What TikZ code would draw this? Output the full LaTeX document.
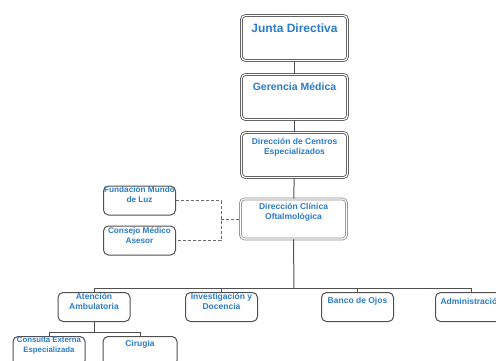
\documentclass[tikz,border=0pt]{standalone}
\usepackage{fontspec}
\setmainfont{Liberation Sans}
\usetikzlibrary{positioning}
\definecolor{OrgBlue}{HTML}{2B7BC9}
\definecolor{LineDark}{HTML}{505050}
\definecolor{EdgeSoft}{HTML}{8C8C8C}
\tikzset{
  topbox/.style={rectangle, rounded corners=4pt, draw=LineDark, double=white,
             double distance=1.1pt, line width=0.8pt, fill=white,
             minimum width=106pt, minimum height=45pt, inner sep=0pt},
  unitbox/.style={rectangle, rounded corners=5pt, draw=LineDark, line width=1pt,
             fill=white, minimum width=72pt, minimum height=29pt, inner sep=0pt},
  lbl/.style={text=OrgBlue, align=center, inner sep=0pt,
             font=\bfseries\fontsize{8.5}{10}\selectfont},
  link/.style={draw=LineDark, line width=1pt},
  advlink/.style={draw=LineDark!85, line width=1pt, dash pattern=on 3pt off 2pt},
}
\begin{document}
\begin{tikzpicture}[x=1pt, y=-1pt]
\useasboundingbox (0,0) rectangle (496,360);
\clip (0,0) rectangle (496,360);
% connectors first, boxes on top
\coordinate (bus) at (294,288);
\coordinate (subbus) at (94,332);
\coordinate (join) at (221,219);
% boxes of the main line
\node[topbox] (junta) at (294.5,38) {};
\node[topbox] (gerencia) at (294.5,97) {};
\node[topbox] (centros) at (294.5,155) {};
\node[topbox, draw=EdgeSoft, minimum height=40pt] (clinica) at (293.5,219) {};
% advisory boxes
\node[unitbox] (fundacion) at (139.5,200.5) {};
\node[unitbox] (consejo) at (139.5,240.5) {};
% units
\node[unitbox] (atencion) at (94,307) {};
\node[unitbox] (investigacion) at (221.5,307) {};
\node[unitbox] (banco) at (357.5,307) {};
\node[unitbox] (admin) at (471.5,307) {};
\node[unitbox] (consulta) at (49,351) {};
\node[unitbox, minimum width=74pt] (cirugia) at (140,351) {};
% connectors
\draw[link] (junta) -- (gerencia);
\draw[link] (gerencia) -- (centros);
\draw[link] (centros) -- (clinica);
\draw[link] (clinica.south) -- (bus);
\draw[link] (atencion.north) |- (bus);
\draw[link] (investigacion.north) |- (bus);
\draw[link] (banco.north) |- (bus);
\draw[link] (admin.north) |- (bus);
\draw[link] (atencion.south) -- (subbus);
\draw[link] (consulta.north) |- (subbus);
\draw[link] (cirugia.north) |- (subbus);
\draw[advlink] (fundacion.east) -| (join) |- (consejo.east);
\draw[advlink] (join) -- (clinica.west);
% labels
\node[lbl, font=\bfseries\fontsize{12}{14}\selectfont] (junta-t) at ([yshift=-13pt]junta.north) {Junta Directiva};
\node[lbl, font=\bfseries\fontsize{10.5}{12}\selectfont] (gerencia-t) at ([yshift=-13pt]gerencia.north) {Gerencia Médica};
\node[lbl] (centros-t) at ([yshift=-15pt]centros.north) {Dirección de Centros\\Especializados};
\node[lbl] (clinica-t) at ([yshift=-14pt]clinica.north) {Dirección Clínica\\Oftalmológica};
\node[lbl, font=\bfseries\fontsize{8.2}{9.5}\selectfont] (fundacion-t) at ([yshift=-9pt]fundacion.north) {Fundación Mundo\\de Luz};
\node[lbl, font=\bfseries\fontsize{8.2}{9.5}\selectfont] (consejo-t) at ([yshift=-10pt]consejo.north) {Consejo Médico\\Asesor};
\node[lbl] (atencion-t) at ([yshift=-9pt]atencion.north) {Atención\\Ambulatoria};
\node[lbl] (investigacion-t) at ([yshift=-9pt]investigacion.north) {Investigación y\\Docencia};
\node[lbl] (banco-t) at ([yshift=-9pt]banco.north) {Banco de Ojos};
\node[lbl] (admin-t) at ([yshift=-9pt]admin.north) {Administración};
\node[lbl, font=\bfseries\fontsize{7.8}{9.5}\selectfont] (consulta-t) at ([yshift=-9.5pt]consulta.north) {Consulta Externa\\Especializada};
\node[lbl] (cirugia-t) at ([yshift=-8pt]cirugia.north) {Cirugia};
\end{tikzpicture}
\end{document}
